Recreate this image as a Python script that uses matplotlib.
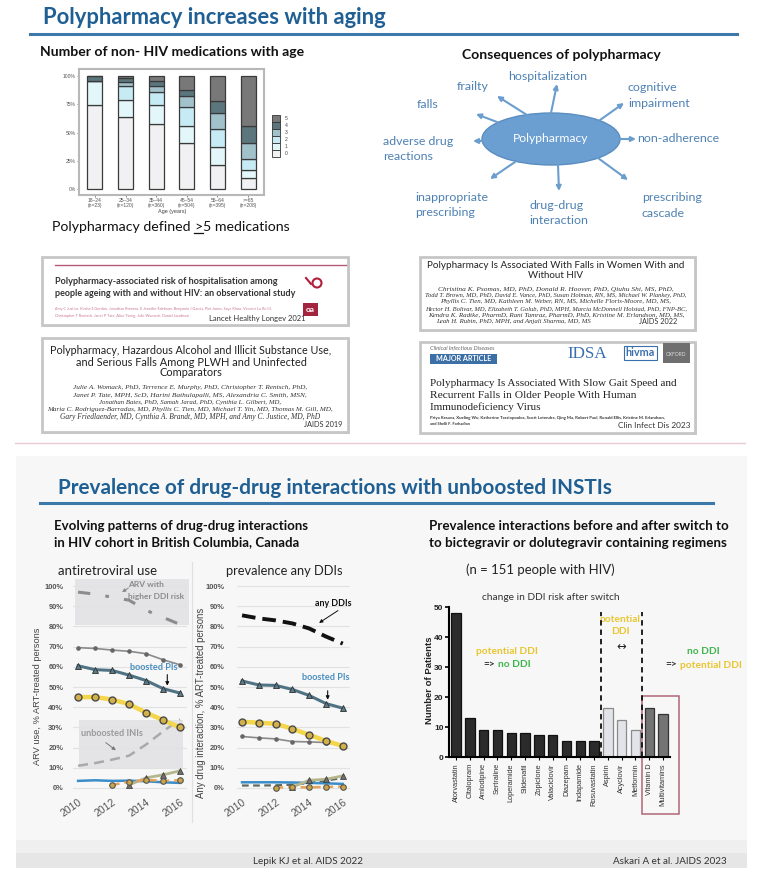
import numpy as np
import matplotlib
matplotlib.use('Agg')
import matplotlib.pyplot as plt
from matplotlib.patches import Rectangle, Ellipse

plt.rcParams['font.family'] = ['Lato', 'DejaVu Sans']

# ---------------- data ----------------
age_groups = ['18–24\n(n=23)', '25–34\n(n=120)', '35–44\n(n=360)', '45–54\n(n=504)',
              '55–64\n(n=395)', '>=65\n(n=208)']
med_levels = ['0', '1', '2', '3', '4', '5']
meds_0 = [74.0, 63.3, 57.8, 40.8, 21.1, 9.4]
meds_1 = [21.6, 15.3, 16.4, 15.2, 16.4, 7.6]
meds_2 = [0.0, 12.3, 11.7, 16.7, 15.3, 9.7]
meds_3 = [0.0, 3.8, 5.3, 9.4, 14.1, 14.4]
meds_4 = [4.4, 3.8, 4.1, 5.9, 11.1, 14.6]
meds_5 = [0.0, 1.5, 4.7, 12.0, 22.0, 44.3]

consequences = ['hospitalization', 'frailty', 'falls', 'cognitive\nimpairment',
                'adverse drug\nreactions', 'non-adherence', 'inappropriate\nprescribing',
                'drug-drug\ninteraction', 'prescribing\ncascade']

years = [2010, 2011, 2012, 2013, 2014, 2015, 2016]
nan = np.nan
arv_higher_ddi = [97, 96, 94.5, 93, 88, 84.5, 81]
arv_other = [69.5, 69.1, 68.3, 67.7, 66.5, 63.5, 61]
arv_boosted_pi = [60.5, 58.6, 58.2, 55.9, 53.2, 49.2, 47]
arv_yellow = [45, 45, 43.8, 41.5, 37.3, 33.6, 30]
arv_unboosted_ini = [11, 12.3, 14, 16, 21.5, 28, 34]
arv_blue = [3.5, 3.8, 3.5, 3.6, 3.3, 2.8, 2.5]
arv_olive = [nan, nan, nan, 1.5, 5.0, 6.5, 8.5]
arv_orange = [nan, nan, 1.5, 3.0, 4.0, 3.5, 3.8]

ddi_any = [85.5, 84, 83, 81.5, 79, 75, 71.5]
ddi_boosted_pi = [53, 51, 50.8, 48.8, 45.8, 41.8, 39.5]
ddi_yellow = [32.8, 32.3, 31.8, 29.3, 26.3, 23.3, 20.8]
ddi_other = [25.5, 24.8, 24.3, 23, 22.8, 22.5, 20.8]
ddi_blue = [2.8, 2.8, 2.8, 2.7, 2.5, 2.3, 2.0]
ddi_dark_dash = [1.2, 1.2, 1.3, 1.6, 2.5, 3.6, 5.0]
ddi_olive = [nan, nan, nan, 0.5, 3.8, 4.3, 6.0]
ddi_orange = [nan, nan, 0.2, 0.3, 0.3, 0.5, 0.7]

drugs = ['Atorvastatin', 'Citalopram', 'Amlodipine', 'Sertraline', 'Loperamide', 'Sildenafil',
         'Zopiclone', 'Valaciclovir', 'Diazepam', 'Indapamide', 'Rosuvastatin',
         'Aspirin', 'Acyclovir', 'Metformin', 'Vitamin D', 'Multivitamins']
patients = [48, 13.1, 8.9, 8.9, 8.0, 8.0, 7.3, 7.3, 5.3, 5.3, 5.3, 16.2, 12.2, 8.9, 16.2, 14.2]
ddi_group = ['pot_to_no'] * 11 + ['both'] * 3 + ['no_to_pot'] * 2

# ---------------- figure ----------------
W, H = 759, 883
fig = plt.figure(figsize=(W / 100, H / 100), dpi=100)
fig.patch.set_facecolor('white')
bg = fig.add_axes([0, 0, 1, 1])
bg.set_xlim(0, W)
bg.set_ylim(H, 0)
bg.axis('off')
renderer = fig.canvas.get_renderer()


def ax_at(x0, y0, x1, y1):
    a = fig.add_axes([x0 / W, 1 - y1 / H, (x1 - x0) / W, (y1 - y0) / H])
    a.set_facecolor('none')
    return a


def txt(x, y, s, w=None, h=None, size=10, ha='left', va='center', ax=None, **kw):
    ax = ax or bg
    t = ax.text(x, y, s, fontsize=size, ha=ha, va=va, **kw)
    if w or h:
        bb = t.get_window_extent(renderer)
        if w:
            t.set_fontsize(size * w / bb.width)
        else:
            t.set_fontsize(size * h / bb.height)
    return t


def multi(x, y, parts, size, gap=3, **kw):
    ts = [bg.text(0, y, s, fontsize=size, color=c, ha='left', va='center', **kw) for s, c in parts]
    ws = [t.get_window_extent(renderer).width for t in ts]
    total = sum(ws) + gap * (len(ts) - 1)
    x0 = x - total / 2
    for t, w in zip(ts, ws):
        t.set_x(x0)
        x0 += w + gap
    return ts


TITLE_C = '#1f5f93'
RULE_C = '#3d78aa'

# ================= TOP SLIDE =================
txt(43, 18, 'Polypharmacy increases with aging', w=343, size=16, fontweight='bold', color=TITLE_C)
bg.plot([30, 737], [34, 34], color=RULE_C, lw=2.2)

txt(40, 52, 'Number of non- HIV medications with age', w=263, size=11, fontweight='bold', color='#111')

# stacked bar chart
ax1 = ax_at(79, 69, 264, 195)
med_colors = ['#f1f1f3', '#e3f6fa', '#c6ebf4', '#a2c2cb', '#5b777d', '#787878']
xpos = np.arange(len(age_groups))
bottom = np.zeros(len(age_groups))
for vals, col in zip([meds_0, meds_1, meds_2, meds_3, meds_4, meds_5], med_colors):
    ax1.bar(xpos, vals, bottom=bottom, width=0.49, color=col, edgecolor='#3a3a3a', linewidth=0.9)
    bottom += np.array(vals)
ax1.set_xlim(-0.52, 5.52)
ax1.set_ylim(-5.3, 106.2)
ax1.set_facecolor('white')
for s in ax1.spines.values():
    s.set_color('#b8b8b8')
    s.set_linewidth(1.5)
ax1.set_yticks([0, 25, 50, 75, 100])
ax1.set_yticklabels(['0%', '25%', '50%', '75%', '100%'], fontsize=3.6, color='#555',
                    family='Liberation Sans')
ax1.set_xticks(xpos)
ax1.set_xticklabels(age_groups, fontsize=3.6, color='#555', family='Liberation Sans', linespacing=1.0)
ax1.tick_params(length=1.5, width=0.5, pad=1, color='#555')
txt(172, 211, 'Age (years)', size=4, ha='center', color='#444', family='Liberation Sans')

# legend
for i, lvl in enumerate(reversed(med_levels)):
    col = med_colors[len(med_levels) - 1 - i]
    bg.add_patch(Rectangle((272, 115 + 7 * i), 8, 7, fc=col, ec='#333', lw=0.6))
    txt(285, 118.5 + 7 * i, lvl, size=3.6, color='#444', family='Liberation Sans')

# "Polypharmacy defined >5 medications" with underlined >
pts = multi(171, 227, [('Polypharmacy defined', '#111'), ('>', '#111'), ('5 medications', '#111')],
            size=10.2, gap=0)
pts[0].set_x(pts[0].get_position()[0] - 2)
pts[1].set_x(pts[1].get_position()[0] + 1.5)
pts[2].set_x(pts[2].get_position()[0] + 1.5)
bbg = pts[1].get_window_extent(renderer)
bg.plot([bbg.x0, bbg.x1], [233, 233], color='#111', lw=0.9)

# consequences diagram
txt(561, 55, 'Consequences of polypharmacy', w=198, size=11, ha='center', fontweight='bold', color='#111')
ARROW_C = '#6b9dcd'
LAB_C = '#4e81b3'
bg.add_patch(Ellipse((551, 139), 138, 52, fc='#6b9fd1', ec='#5b8dc0', lw=1))
txt(551, 139, 'Polypharmacy', w=76, size=9, ha='center', color='white')
arrows = [((551, 113), (557, 84)), ((527, 115), (497, 96)), ((497, 122), (476, 114)),
          ((600, 120), (624, 103)), ((482, 141), (473, 141)), ((620, 139), (636, 139)),
          ((515, 162), (490, 179)), ((558, 165), (559, 191)), ((598, 158), (628, 180))]
for (s, e) in arrows:
    bg.annotate('', xy=e, xytext=s,
                arrowprops=dict(arrowstyle='-|>', color=ARROW_C, lw=1.5, mutation_scale=7,
                                shrinkA=0, shrinkB=0))
t0 = txt(548, 76, consequences[0], w=79, size=9, ha='center', color=LAB_C)
fs = t0.get_fontsize()
lab_pos = [None, (473, 87, 'center'), (428, 105, 'center'), (628, 95.5, 'left'),
           (383, 149, 'left'), (637, 139, 'left'), (415, 205, 'left'), (529, 213, 'left'),
           (642, 205.5, 'left')]
for lab, p in zip(consequences[1:], lab_pos[1:]):
    txt(p[0], p[1], lab, size=fs, ha=p[2], color=LAB_C, linespacing=1.45)


# paper boxes
def paper_box(x0, y0, x1, y1):
    bg.add_patch(Rectangle((x0 + 2, y0 + 2), x1 - x0, y1 - y0, fc='#d2d2d2', ec='none'))
    bg.add_patch(Rectangle((x0, y0), x1 - x0, y1 - y0, fc='white', ec='#c6c6c6', lw=2))


paper_box(42, 257, 348, 325)
bg.plot([55, 346], [265, 265], color='#b5587a', lw=1.0)
txt(55, 282, 'Polypharmacy-associated risk of hospitalisation among', w=223, size=8,
    fontweight='bold', color='#333')
txt(55, 294, 'people ageing with and without HIV: an observational study', w=242, size=8,
    fontweight='bold', color='#333')
txt(55, 309, 'Amy C Justice, Kirsha S Gordon, Jonathan Romero, E Jennifer Edelman, Benjamin J Garcia, '
    'Piet Jones, Saye Khoo, Vincent Lo Re III,', w=213, size=3, color='#c9758f')
txt(55, 316, 'Christopher T Rentsch, Janet P Tate, Alice Tseng, Julie Womack, Daniel Jacobson',
    w=132, size=3, color='#c9758f')
txt(209, 318, 'Lancet Healthy Longev 2021', w=97, size=7, color='#333')
bg.add_patch(Rectangle((303, 303), 15, 13, fc='#a3243f', ec='none'))
txt(310.5, 309.5, 'oa', size=6, ha='center', color='white', fontweight='bold')
bg.add_patch(Ellipse((317, 283), 9, 9, fc='none', ec='#b01e3a', lw=1.5))
bg.plot([306, 311], [278, 284], color='#b01e3a', lw=1.5)

paper_box(42, 338, 348, 432)
txt(191, 351, 'Polypharmacy, Hazardous Alcohol and Illicit Substance Use,', w=284, size=8,
    ha='center', color='#222')
txt(191, 362, 'and Serious Falls Among PLWH and Uninfected', w=230, size=8, ha='center', color='#222')
txt(191, 372.5, 'Comparators', w=63, size=8, ha='center', color='#222')
auth_b = [('Julie A. Womack, PhD, Terrence E. Murphy, PhD, Christopher T. Rentsch, PhD,', 230),
          ('Janet P. Tate, MPH, ScD, Harini Bathulapalli, MS, Alexandria C. Smith, MSN,', 230),
          ('Jonathan Bates, PhD, Samah Jarad, PhD, Cynthia L. Gilbert, MD,', 180),
          ('Maria C. Rodriguez-Barradas, MD, Phyllis C. Tien, MD, Michael T. Yin, MD, Thomas M. Gill, MD,', 284),
          ('Gary Friedlaender, MD, Cynthia A. Brandt, MD, MPH, and Amy C. Justice, MD, PhD', 260)]
for i, (s, w) in enumerate(auth_b):
    txt(190, 388 + 7.2 * i, s, w=w, size=4, ha='center', color='#333', family='Liberation Serif',
        style='italic')
txt(342, 424.5, 'JAIDS 2019', w=39, size=6, ha='right', color='#333')

paper_box(420, 257, 695, 330)
txt(556, 266, 'Polypharmacy Is Associated With Falls in Women With and', w=259, size=8,
    ha='center', color='#222')
txt(556, 276, 'Without HIV', w=55, size=8, ha='center', color='#222')
auth_c = [('Christina K. Psomas, MD, PhD, Donald R. Hoover, PhD, Qiuhu Shi, MS, PhD,', 232),
          ('Todd T. Brown, MD, PhD, David E. Vance, PhD, Susan Holman, RN, MS, Michael W. Plankey, PhD,', 259),
          ('Phyllis C. Tien, MD, Kathleen M. Weber, RN, MS, Michelle Floris-Moore, MD, MS,', 228),
          ('Hector H. Bolivar, MD, Elizabeth T. Golub, PhD, MPH, Marcia McDonnell Holstad, PhD, FNP-BC,', 261),
          ('Kendra K. Radtke, PharmD, Rani Tamraz, PharmD, PhD, Kristine M. Erlandson, MD, MS,', 256),
          ('Leah H. Rubin, PhD, MPH, and Anjali Sharma, MD, MS', 152)]
for i, (s, w) in enumerate(auth_c):
    xc = 556 if i < 5 else 513
    txt(xc, 289 + 6.5 * i, s, w=w, size=4, ha='center', color='#333', family='Liberation Serif',
        style='italic')
txt(677, 321, 'JAIDS 2022', w=38, size=6, ha='right', color='#333')

paper_box(420, 342, 695, 433)
txt(430, 348, 'Clinical Infectious Diseases', w=64, size=4, color='#666', style='italic')
bg.add_patch(Rectangle((430, 354), 67, 9.5, fc='#3b6fa6', ec='none'))
txt(463.5, 358.8, 'MAJOR ARTICLE', w=55, size=4, ha='center', color='white', fontweight='bold')
txt(567, 353.5, 'IDSA', w=40, size=8, color='#3a6fae', family='Liberation Serif')
bg.add_patch(Rectangle((624, 346), 33, 14, fc='white', ec='#3a6fae', lw=0.8))
txt(640.5, 352, 'hivma', w=29, size=6, ha='center', color='#3a6fae', fontweight='bold')
bg.add_patch(Rectangle((663, 343), 27, 20, fc='#6f6f6f', ec='none'))
txt(676.5, 354, 'OXFORD', w=20, size=3, ha='center', color='#dddddd')
txt(430, 383.5, 'Polypharmacy Is Associated With Slow Gait Speed and', w=246, size=8,
    color='#222', family='Liberation Serif')
txt(430, 395.5, 'Recurrent Falls in Older People With Human', w=208, size=8, color='#222',
    family='Liberation Serif')
txt(430, 407, 'Immunodeficiency Virus', w=111, size=8, color='#222', family='Liberation Serif')
txt(430, 418, 'Priya Kesava, Xueling Wu, Katherine Tassiopoulos, Scott Letendre, Qing Ma, Robert Paul, '
    'Ronald Ellis, Kristine M. Erlandson,', w=233, size=3, color='#333', fontweight='bold')
txt(430, 424, 'and Shelli F. Farhadian', w=40, size=3, color='#333', fontweight='bold')
txt(691, 425, 'Clin Infect Dis 2023', w=73, size=6, ha='right', color='#333')

bg.plot([15, 745], [443, 443], color='#e9cbd4', lw=1.0)

# ================= BOTTOM SLIDE =================
bg.add_patch(Rectangle((16, 456), 731, 384, fc='#f7f7f7', ec='none'))
bg.add_patch(Rectangle((16, 840), 731, 13, fc='#efefef', ec='none'))
bg.add_patch(Rectangle((16, 853), 731, 15, fc='#e6e6e6', ec='none'))

txt(58, 488, 'Prevalence of drug-drug interactions with unboosted INSTIs', w=557, size=16,
    fontweight='bold', color=TITLE_C)
bg.plot([40, 713], [503, 503], color=RULE_C, lw=2.2)

txt(54, 526, 'Evolving patterns of drug-drug interactions', w=254, size=10, fontweight='bold', color='#111')
t = txt(54, 542, 'in HIV cohort in British Columbia, Canada', size=10, fontweight='bold', color='#111')
t.set_fontsize(bg.texts[-2].get_fontsize())
txt(108, 571, 'antiretroviral use', w=100, size=9, ha='center', color='#222')
txt(284, 571, 'prevalence any DDIs', w=118, size=9, ha='center', color='#222')
bg.plot([192, 192], [562, 822], color='#e0e0e0', lw=0.8)


def style_line_ax(ax, pad):
    ax.set_ylim(-3, 104)
    for s in ax.spines.values():
        s.set_visible(False)
    ax.set_yticks(range(0, 101, 10))
    ax.set_yticklabels([f'{v}%' for v in range(0, 101, 10)], fontsize=5.4, color='#555',
                       family='Liberation Sans', fontweight='bold')
    ax.tick_params(axis='y', length=0, pad=pad)
    ax.set_xticks([2010, 2012, 2014, 2016])
    ax.set_xticklabels(['2010', '2012', '2014', '2016'], rotation=35, ha='right',
                       rotation_mode='anchor', fontsize=7.5, color='#555', family='Liberation Sans')
    ax.tick_params(axis='x', length=0, pad=2)
    ax.grid(axis='y', color='#e2e2e2', lw=0.8)
    ax.set_axisbelow(True)


def common_lines(ax, other, boosted, yellow, blue, olive, orange):
    ax.plot(years, other, color='#8a8a8a', lw=1.2, marker='o', ms=2.3, mfc='#666', mec='#666',
            clip_on=False, zorder=3)
    ax.plot(years, boosted, color='#4f7384', lw=2.2, marker='^', ms=4.3, mfc='#5c7b88',
            mec='#2e2e2e', mew=0.6, clip_on=False, zorder=4)
    ax.plot(years, yellow, color='#f3d64a', lw=3.2, marker='o', ms=5, mfc='#d3b04a',
            mec='#4a4a4a', mew=1.0, clip_on=False, zorder=4)
    ax.plot(years, blue, color='#3a8dc8', lw=1.8, clip_on=False, zorder=3)
    ax.plot(years, olive, color='#b6b68c', lw=2.0, marker='^', ms=3.8, mfc='#6f6f6f',
            mec='#333', mew=0.5, clip_on=False, zorder=3)
    ax.plot(years, orange, color='#e7a25a', lw=1.8, ls=(0, (3, 2)), marker='o', ms=4,
            mfc='#c9a547', mec='#555', mew=0.8, clip_on=False, zorder=3)


# left line chart
axL = ax_at(73, 578, 187, 794)
axL.set_xlim(2009.7, 2016.41)
style_line_ax(axL, pad=7)
axL.add_patch(Rectangle((2009.82, 80.7), 6.68, 23, fc='#e4e4e6', ec='none', zorder=0.5, clip_on=False))
axL.add_patch(Rectangle((2010.08, 10), 6.1, 23.7, fc='#e4e4e6', ec='none', zorder=0.5, clip_on=False))
axL.plot(years, arv_higher_ddi, color='#8c8c8c', lw=2.2, ls=(0, (4, 5, 1.2, 5)), clip_on=False, zorder=3)
axL.plot(years, arv_unboosted_ini, color='#a9a9a9', lw=1.8, ls=(0, (4, 2.5)), clip_on=False, zorder=3)
common_lines(axL, arv_other, arv_boosted_pi, arv_yellow, arv_blue, arv_olive, arv_orange)
axL.text(2012.95, 100.7, 'ARV with', fontsize=6.0, color='#8a8a8a', va='center', fontweight='bold')
axL.text(2012.95, 94.7, 'higher DDI risk', fontsize=6.0, color='#8a8a8a', va='center', fontweight='bold')
axL.annotate('', xy=(2012.45, 96.3), xytext=(2013.1, 99.8),
             arrowprops=dict(arrowstyle='-|>', color='#8a8a8a', lw=0.7, mutation_scale=5))
axL.text(2013.05, 59.5, 'boosted PIs', fontsize=6.6, color='#4a8fc0', va='center', fontweight='bold')
axL.annotate('', xy=(2015.25, 49.3), xytext=(2015.25, 57.5),
             arrowprops=dict(arrowstyle='-|>', color='#111', lw=0.8, mutation_scale=5))
axL.text(2010.2, 27, 'unboosted INIs', fontsize=6.6, color='#9a9a9a', va='center', fontweight='bold')
axL.annotate('', xy=(2012.35, 17.8), xytext=(2011.5, 23.3),
             arrowprops=dict(arrowstyle='-|>', color='#777', lw=0.7, mutation_scale=5))
txt(38, 696, 'ARV use, % ART-treated persons', h=138, size=7, ha='center', rotation=90,
    color='#444', family='Liberation Sans')

# right line chart
axR = ax_at(237, 578, 350, 794)
axR.set_xlim(2009.7, 2016.43)
style_line_ax(axR, pad=9)
axR.plot(years, ddi_any, color='#111', lw=2.8, ls=(0, (3.5, 1.8)), clip_on=False, zorder=3)
axR.plot(years, ddi_dark_dash, color='#5d6b60', lw=1.6, ls=(0, (3, 2)), clip_on=False, zorder=3)
common_lines(axR, ddi_other, ddi_boosted_pi, ddi_yellow, ddi_blue, ddi_olive, ddi_orange)
axR.text(2014.35, 91.6, 'any DDIs', fontsize=6.4, color='#111', va='center', fontweight='bold')
axR.annotate('', xy=(2014.45, 81), xytext=(2015.85, 88.6),
             arrowprops=dict(arrowstyle='-|>', color='#111', lw=0.7, mutation_scale=5))
axR.text(2013.55, 54.5, 'boosted PIs', fontsize=6.6, color='#4a8fc0', va='center', fontweight='bold')
axR.annotate('', xy=(2015.1, 42.3), xytext=(2015.1, 49.5),
             arrowprops=dict(arrowstyle='-|>', color='#111', lw=0.8, mutation_scale=5))
txt(201, 703, 'Any drug interaction, % ART-treated persons', h=190, size=7, ha='center',
    rotation=90, color='#444', family='Liberation Sans')

# right side: bar chart
tt = txt(429, 526, 'Prevalence interactions before and after switch to', w=298, size=10,
         fontweight='bold', color='#111')
t2 = txt(429, 543, 'to bictegravir or dolutegravir containing regimens', size=10, fontweight='bold',
         color='#111')
t2.set_fontsize(tt.get_fontsize())
txt(466, 570, '(n = 151 people with HIV)', w=149, size=10, color='#222')
txt(551, 597, 'change in DDI risk after switch', w=138, size=6, ha='center', color='#333')

axB = ax_at(449, 601, 670, 757)
bar_style = {'pot_to_no': ('#2b2b2b', '#111111'), 'both': ('#e3e4e9', '#8a8a8a'),
             'no_to_pot': ('#747474', '#333333')}
bx = np.arange(len(drugs))
axB.bar(bx, patients, width=0.68, color=[bar_style[g][0] for g in ddi_group],
        edgecolor=[bar_style[g][1] for g in ddi_group], linewidth=0.9, zorder=2)
axB.set_xlim(-0.51, 15.5)
axB.set_ylim(0, 52)
axB.spines['top'].set_visible(False)
axB.spines['right'].set_visible(False)
axB.spines['left'].set_bounds(0, 50)
axB.spines['left'].set_linewidth(1.5)
axB.spines['bottom'].set_linewidth(1.5)
axB.set_yticks([0, 10, 20, 30, 40, 50])
axB.set_yticklabels(['0', '10', '20', '30', '40', '50'], fontsize=6, fontweight='bold',
                    family='Liberation Sans', color='#222')
axB.tick_params(axis='y', length=3, width=1.2, pad=1)
axB.set_xticks(bx)
axB.set_xticklabels(drugs, rotation=90, fontsize=5.3, family='Liberation Sans', color='#333')
axB.tick_params(axis='x', length=2.5, width=0.8, pad=2)
for xv in (10.5, 13.5):
    axB.plot([xv, xv], [0, 48.3], color='#111', lw=1.3, ls=(0, (3, 2.2)), clip_on=False, zorder=3)
axB.add_patch(Rectangle((13.47, -19), 2.7, 39.3, fc='none', ec='#b06677', lw=1.1, clip_on=False))
txt(429, 680, 'Number of Patients', h=87, size=7, ha='center', rotation=90, fontweight='bold',
    color='#222', family='Liberation Sans')

YEL = '#e8c62f'
GRN = '#3db54a'
tp = txt(507, 652, 'potential DDI', w=62, size=7, ha='center', fontweight='bold', color=YEL)
fsa = tp.get_fontsize()
multi(507, 664.5, [('=>', '#333'), ('no DDI', GRN)], size=fsa, fontweight='bold')
txt(620, 619, 'potential', size=fsa, ha='center', fontweight='bold', color=YEL)
txt(620, 632, 'DDI', size=fsa, ha='center', fontweight='bold', color=YEL)
txt(621, 646, '↔', size=fsa + 1, ha='center', color='#222', family='DejaVu Sans')
txt(703, 652, 'no DDI', size=fsa, ha='center', fontweight='bold', color=GRN)
multi(704, 665, [('=>', '#333'), ('potential DDI', YEL)], size=fsa, fontweight='bold')

# footers
txt(253, 862, 'Lepik KJ et al. AIDS 2022', w=110, size=7, color='#333')
txt(613, 862, 'Askari A et al. JAIDS 2023', w=115, size=7, color='#333')

fig.savefig('out.png', dpi=100, facecolor='white')
